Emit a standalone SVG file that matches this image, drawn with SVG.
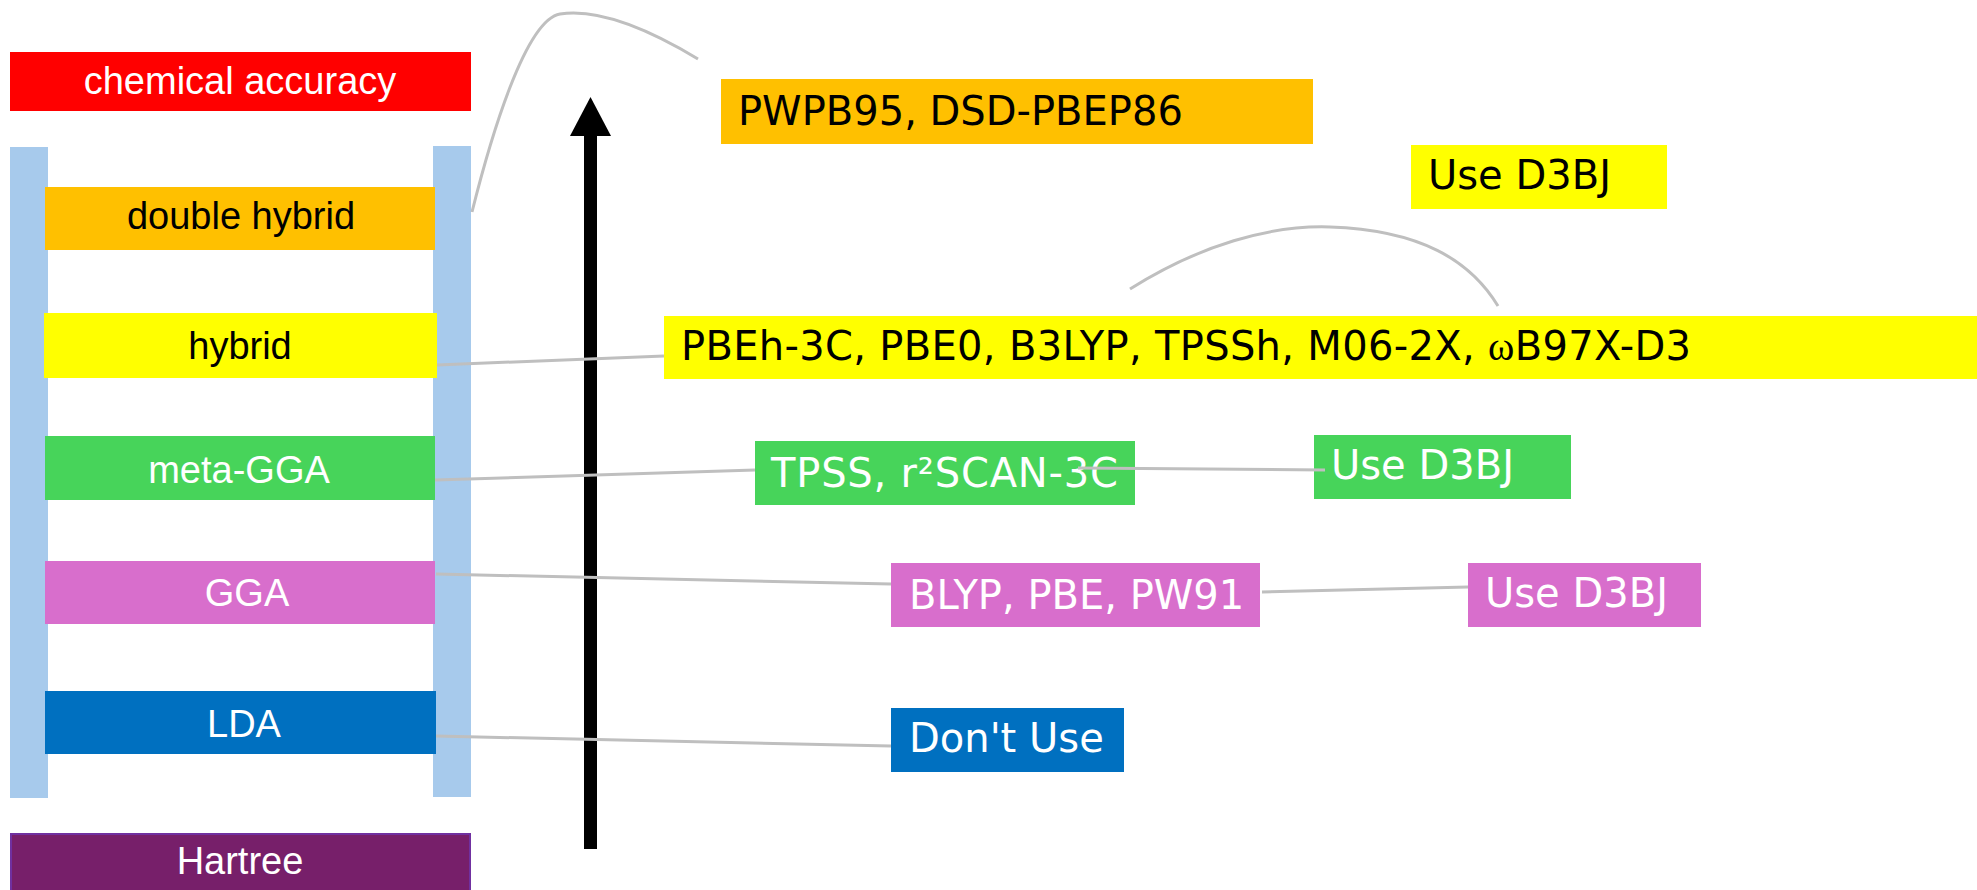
<svg xmlns="http://www.w3.org/2000/svg" width="1977" height="890" viewBox="0 0 1977 890">
<style>
.lbl{font-family:"Liberation Sans",Arial,sans-serif;font-size:38px;text-anchor:middle}
.rt{font-family:"DejaVu Sans","Liberation Sans",sans-serif;font-size:40px}
.w{fill:#FFFFFF}
.k{fill:#000000}
.rail{fill:#A7CAEC}
.conn{fill:none;stroke:#BFBFBF;stroke-width:3}
</style>
<rect width="1977" height="890" fill="#FFFFFF"/>
<g id="rails">
<rect class="rail" x="10" y="147" width="38" height="651"/>
<rect class="rail" x="433" y="146" width="38" height="651"/>
</g>
<g id="arrow">
<rect x="584" y="134" width="13" height="715" fill="#000000"/>
<polygon points="590.5,97 570,136 611,136" fill="#000000"/>
</g>
<g id="connectors">
<path class="conn" d="M472,212 C490,140 525,20 560,14 C600,8 650,30 698,59"/>
<path class="conn" d="M1130,289 C1200,245 1270,225 1330,227 C1420,230 1470,260 1498,306"/>
<line class="conn" x1="437" y1="365" x2="664" y2="356"/>
<line class="conn" x1="435" y1="480" x2="755" y2="470"/>
<line class="conn" x1="436" y1="574" x2="891" y2="584"/>
<line class="conn" x1="436" y1="736" x2="891" y2="746"/>
<line class="conn" x1="1262" y1="592" x2="1468" y2="587"/>
</g>
<g id="chemical-accuracy">
<rect x="10" y="52" width="461" height="59" fill="#FF0000"/>
<text class="lbl w" x="240" y="94">chemical accuracy</text>
</g>
<g id="double-hybrid">
<rect x="45" y="187" width="390" height="63" fill="#FFC000"/>
<text class="lbl k" x="241" y="229">double hybrid</text>
</g>
<g id="hybrid">
<rect x="44" y="313" width="393" height="65" fill="#FFFF00"/>
<text class="lbl k" x="240" y="359">hybrid</text>
</g>
<g id="meta-gga">
<rect x="45" y="436" width="390" height="64" fill="#47D45A"/>
<text class="lbl w" x="239" y="483">meta-GGA</text>
</g>
<g id="gga">
<rect x="45" y="561" width="390" height="63" fill="#D86ECC"/>
<text class="lbl w" x="247" y="606">GGA</text>
</g>
<g id="lda">
<rect x="45" y="691" width="391" height="63" fill="#0070C0"/>
<text class="lbl w" x="244" y="737">LDA</text>
</g>
<g id="hartree">
<rect x="11" y="834" width="459" height="60" fill="#771F6A" stroke="#7030A0" stroke-width="2"/>
<text class="lbl w" x="240" y="874">Hartree</text>
</g>
<g id="dh-examples">
<rect x="721" y="79" width="592" height="65" fill="#FFC000"/>
<text class="rt k" x="738" y="125">PWPB95, DSD-PBEP86</text>
</g>
<g id="dh-disp">
<rect x="1411" y="145" width="256" height="64" fill="#FFFF00"/>
<text class="rt k" x="1428" y="189">Use D3BJ</text>
</g>
<g id="hybrid-examples">
<rect x="664" y="316" width="1313" height="63" fill="#FFFF00"/>
<text class="rt k" x="681" y="360" textLength="1010">PBEh-3C, PBE0, B3LYP, TPSSh, M06-2X, <tspan font-family="Liberation Serif,serif">ω</tspan>B97X-D3</text>
</g>
<g id="mgga-examples">
<rect x="755" y="441" width="380" height="64" fill="#47D45A"/>
<text class="rt w" x="771" y="487" textLength="347">TPSS, r²SCAN-3C</text>
</g>
<g id="mgga-disp">
<rect x="1314" y="435" width="257" height="64" fill="#47D45A"/>
<text class="rt w" x="1331" y="479">Use D3BJ</text>
</g>
<line class="conn" x1="1078" y1="468" x2="1325" y2="470"/>
<g id="gga-examples">
<rect x="891" y="563" width="369" height="64" fill="#D86ECC"/>
<text class="rt w" x="909" y="609">BLYP, PBE, PW91</text>
</g>
<g id="gga-disp">
<rect x="1468" y="563" width="233" height="64" fill="#D86ECC"/>
<text class="rt w" x="1485" y="607">Use D3BJ</text>
</g>
<g id="lda-note">
<rect x="891" y="708" width="233" height="64" fill="#0070C0"/>
<text class="rt w" x="909" y="752">Don't Use</text>
</g>
</svg>
